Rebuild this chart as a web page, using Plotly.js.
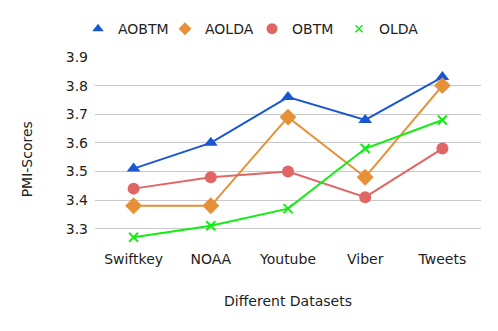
<!DOCTYPE html>
<html>
<head>
<meta charset="utf-8">
<script src="https://cdn.plot.ly/plotly-3.0.1.min.js"></script>
<style>body{margin:0;background:#fff}#chart{width:498px;height:331px}</style>
</head>
<body>
<div id="chart"></div>
<script>
var datasets = ['Swiftkey', 'NOAA', 'Youtube', 'Viber', 'Tweets'];
var aobtm = [3.51, 3.60, 3.76, 3.68, 3.83];
var aolda = [3.38, 3.38, 3.69, 3.48, 3.80];
var obtm = [3.44, 3.48, 3.50, 3.41, 3.58];
var olda = [3.27, 3.31, 3.37, 3.58, 3.68];

var names = ['AOBTM', 'AOLDA', 'OBTM', 'OLDA'];
var values = [aobtm, aolda, obtm, olda];
var colors = ['#1a56d0', '#e69138', '#e06666', '#11ee11'];
var symbols = ['triangle-up', 'diamond', 'circle', 'x-thin'];
var sizes = [12, 13, 12, 9];
var legendSizes = [10, 10, 11, 7];

var data = [];
// plotted lines (legend hidden, legend shows markers only like the original)
names.forEach(function (n, i) {
  var m = {color: colors[i], symbol: symbols[i], size: sizes[i]};
  if (symbols[i] === 'x-thin') m.line = {color: colors[i], width: 2};
  data.push({
    x: datasets, y: values[i], name: n, type: 'scatter', mode: 'lines+markers',
    line: {color: colors[i], width: 2}, marker: m, showlegend: false
  });
});
names.forEach(function (n, i) {
  var m = {color: colors[i], symbol: symbols[i], size: legendSizes[i]};
  if (symbols[i] === 'x-thin') m.line = {color: colors[i], width: 1.5};
  data.push({
    x: [datasets[0]], y: [null], name: n, type: 'scatter', mode: 'markers',
    marker: m, hoverinfo: 'skip'
  });
});

var layout = {
  width: 498, height: 331,
  margin: {l: 95, r: 17, t: 57, b: 88},
  font: {family: 'DejaVu Sans', size: 14, color: '#222'},
  paper_bgcolor: '#fff', plot_bgcolor: '#fff',
  showlegend: true,
  legend: {orientation: 'h', x: -0.044, xanchor: 'left', y: 1.15, yanchor: 'middle',
           font: {size: 14}, itemwidth: 30, entrywidth: 42, entrywidthmode: 'pixels'},
  xaxis: {
    range: [-0.5, 4.5], showgrid: false, zeroline: false, showline: false,
    ticks: '', ticklabelstandoff: 6,
    title: {text: 'Different Datasets', standoff: 30, font: {size: 14}}
  },
  yaxis: {
    range: [3.25, 3.9], dtick: 0.1, tickformat: '.1f',
    gridcolor: '#c8c8c8', zeroline: false, showline: false, ticks: '',
    ticklabelstandoff: 6
  },
  annotations: [{
    text: 'PMI-Scores', textangle: -90, showarrow: false,
    xref: 'paper', yref: 'paper', x: -0.176, y: 0.45,
    xanchor: 'center', yanchor: 'middle', font: {size: 14}
  }]
};

Plotly.newPlot('chart', data, layout, {displayModeBar: false});
</script>
</body>
</html>
